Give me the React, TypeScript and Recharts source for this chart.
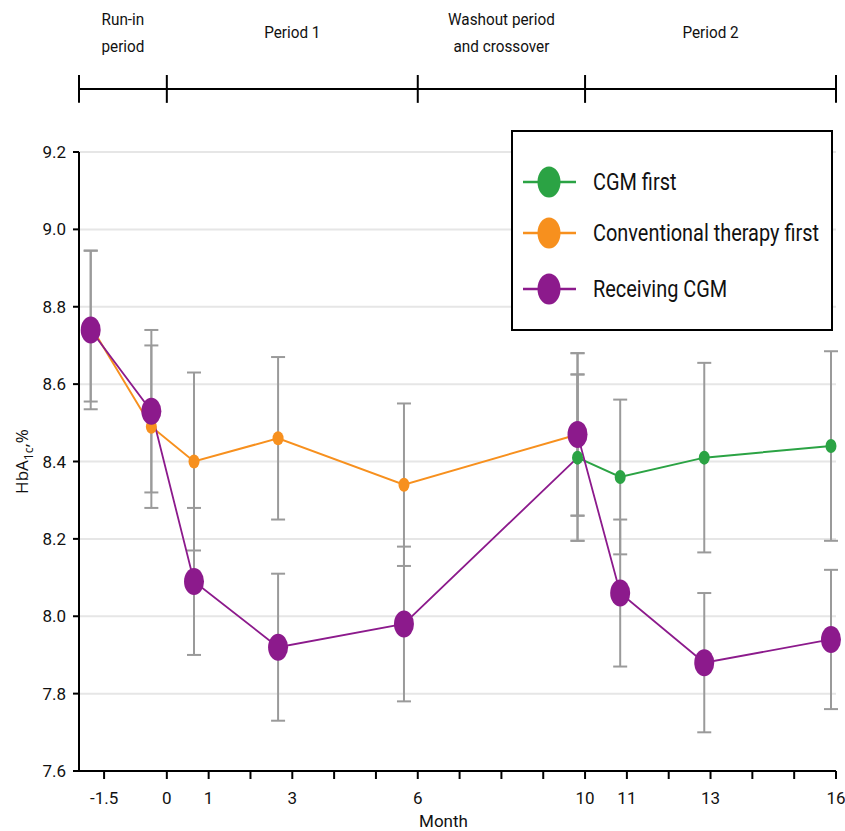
import React from "react";
import {
  LineChart,
  Line,
  XAxis,
  YAxis,
  CartesianGrid,
  ErrorBar,
  Legend,
  Label,
  ReferenceLine,
  ReferenceArea,
} from "recharts";

const FONT = "Roboto, 'Liberation Sans', sans-serif";
const GREEN = "#2ba344";
const ORANGE = "#f7901e";
const PURPLE = "#8c1a8c";
const GREY = "#9a9a9a";

// mean visit times in months (from randomisation)
const visitMonths = [-1.82, -0.37, 0.65, 2.66, 5.67, 9.82, 10.84, 12.85, 15.88];

// HbA1c (%) means with their SE
const conventionalFirst = [8.75, 8.49, 8.4, 8.46, 8.34, 8.47];
const conventionalFirstSe = [0.195, 0.21, 0.23, 0.21, 0.21, 0.21];

const cgmFirst = [8.41, 8.36, 8.41, 8.44];
const cgmFirstSe = [0.215, 0.2, 0.245, 0.245];

const receivingCgm = [8.74, 8.53, 8.09, 7.92, 7.98, 8.47, 8.06, 7.88, 7.94];
const receivingCgmSe = [0.205, 0.21, 0.19, 0.19, 0.2, 0.21, 0.19, 0.18, 0.18];

const xTicks = [-1.5, 0, 1, 2, 3, 4, 5, 6, 7, 8, 9, 10, 11, 12, 13, 14, 15, 16];
const xLabelled = [-1.5, 0, 1, 3, 6, 10, 11, 13, 16];
const yTicks = [7.6, 7.8, 8.0, 8.2, 8.4, 8.6, 8.8, 9.0, 9.2];

const periodEdges = [-2.1, 0, 6, 10, 16];
const periodLabels = [["Run-in", "period"], ["Period 1"], ["Washout period", "and crossover"], ["Period 2"]];

const legendItems = [
  { name: "CGM first", color: GREEN },
  { name: "Conventional therapy first", color: ORANGE },
  { name: "Receiving CGM", color: PURPLE },
];

type Pt = { month: number; value: number; se: number };
const toPoints = (vals: number[], errs: number[], start: number): Pt[] =>
  vals.map((v, i) => ({ month: visitMonths[start + i], value: v, se: errs[i] }));

const conventionalData = toPoints(conventionalFirst, conventionalFirstSe, 0);
const cgmFirstData = toPoints(cgmFirst, cgmFirstSe, 5);
// period 1 CGM arm runs on to the CGM-first group at the end of washout
const receivingP1 = [...toPoints(receivingCgm.slice(0, 5), receivingCgmSe.slice(0, 5), 0), cgmFirstData[0]];
const receivingP2 = toPoints(receivingCgm.slice(5), receivingCgmSe.slice(5), 5);

const ellipseDot = (color: string, rx: number, ry: number, hide: number[] = []) => (p: any) => {
  if (hide.includes(p.index) || p.cx == null) return <g key={`d-${p.index}`} />;
  return <ellipse key={`d-${p.index}`} cx={p.cx} cy={p.cy} rx={rx} ry={ry} fill={color} />;
};

const PeriodLabel = ({ viewBox, lines }: any) => {
  const cx = viewBox.x + viewBox.width / 2;
  const cy = viewBox.y + viewBox.height / 2;
  return (
    <g>
      {lines.map((t: string, i: number) => (
        <text
          key={t}
          transform={`translate(${cx} ${cy + (i - (lines.length - 1) / 2) * 27}) scale(0.9 1)`}
          dy="0.35em"
          textAnchor="middle"
          fontSize={17}
          fill="#111"
        >
          {t}
        </text>
      ))}
    </g>
  );
};

const YTitle = ({ viewBox }: any) => {
  const cx = 22;
  const cy = viewBox.y + viewBox.height / 2;
  return (
    <text
      x={cx}
      y={cy}
      transform={`rotate(-90 ${cx} ${cy})`}
      textAnchor="middle"
      dy="0.35em"
      fontSize={17}
      fontFamily="'Open Sans', sans-serif"
      fill="#111"
    >
      HbA
      <tspan fontSize={12} dy={5}>
        1c
      </tspan>
      <tspan dy={-5}>,%</tspan>
    </text>
  );
};

const XTitle = ({ viewBox }: any) => (
  <text x={viewBox.x + viewBox.width / 2 - 14} y={viewBox.y + 50} dy="0.35em" textAnchor="middle" fontSize={17} fill="#111">
    Month
  </text>
);

const LegendBox = () => (
  <div style={{ width: 322, height: 201, border: "2px solid #000", background: "#fff", boxSizing: "border-box" }}>
    <svg width={318} height={197} style={{ display: "block", fontFamily: FONT }}>
      {legendItems.map((item, i) => {
        const y = [50, 101, 157][i];
        return (
          <g key={item.name}>
            <line x1={10} x2={63} y1={y} y2={y} stroke={item.color} strokeWidth={2.5} />
            <ellipse cx={36} cy={y} rx={11.5} ry={15.5} fill={item.color} />
            <text transform={`translate(80 ${y}) scale(0.83 1)`} dy="0.35em" fontSize={24} fill="#111">
              {item.name}
            </text>
          </g>
        );
      })}
    </svg>
  </div>
);

export default function App() {
  return (
    <div style={{ position: "absolute", left: 0, top: 0 }}>
      <LineChart
        width={845}
        height={831}
        margin={{ top: 152, right: 9, bottom: 0, left: 0 }}
        style={{ fontFamily: FONT }}
      >
        <CartesianGrid vertical={false} stroke="#e6e6e6" strokeWidth={2} />
        <XAxis
          type="number"
          dataKey="month"
          domain={[-2.1, 16]}
          ticks={xTicks}
          interval={0}
          height={60}
          tickFormatter={(v: number) => (xLabelled.includes(v) ? String(v) : "")}
          tick={{ fontSize: 17, fill: "#111" }}
          tickSize={8}
          tickMargin={13}
          axisLine={{ stroke: "#000", strokeWidth: 2 }}
          tickLine={{ stroke: "#000", strokeWidth: 2 }}
        >
          <Label content={XTitle} />
        </XAxis>
        <YAxis
          type="number"
          domain={[7.6, 9.2]}
          ticks={yTicks}
          interval={0}
          width={79}
          tickFormatter={(v: number) => v.toFixed(1)}
          tick={{ fontSize: 17, fill: "#111" }}
          tickSize={6}
          tickMargin={7}
          axisLine={{ stroke: "#000", strokeWidth: 2 }}
          tickLine={{ stroke: "#000", strokeWidth: 2 }}
        >
          <Label content={YTitle} />
        </YAxis>

        {/* study period bar above the plot */}
        <ReferenceLine
          segment={[{ x: -2.1, y: 9.363 }, { x: 16, y: 9.363 }]}
          stroke="#000"
          strokeWidth={2}
          ifOverflow="visible"
        />
        {periodEdges.map((e) => (
          <ReferenceLine
            key={`edge-${e}`}
            segment={[{ x: e, y: 9.327 }, { x: e, y: 9.399 }]}
            stroke="#000"
            strokeWidth={2}
            ifOverflow="visible"
          />
        ))}
        {periodLabels.map((lines, i) => (
          <ReferenceArea
            key={lines[0]}
            x1={periodEdges[i]}
            x2={periodEdges[i + 1]}
            y1={9.45}
            y2={9.57}
            fill="none"
            stroke="none"
            ifOverflow="visible"
            label={<PeriodLabel lines={lines} />}
          />
        ))}

        <Line
          data={conventionalData}
          dataKey="value"
          stroke={ORANGE}
          strokeWidth={2}
          dot={ellipseDot(ORANGE, 5.5, 7)}
          activeDot={false}
          isAnimationActive={false}
        >
          <ErrorBar dataKey="se" direction="y" width={7} stroke={GREY} strokeWidth={2} />
        </Line>
        <Line
          data={receivingP1}
          dataKey="value"
          stroke={PURPLE}
          strokeWidth={1.8}
          dot={ellipseDot(PURPLE, 10, 13.5, [5])}
          activeDot={false}
          isAnimationActive={false}
        >
          <ErrorBar dataKey="se" direction="y" width={7} stroke={GREY} strokeWidth={2} />
        </Line>
        <Line
          data={cgmFirstData}
          dataKey="value"
          stroke={GREEN}
          strokeWidth={2}
          dot={ellipseDot(GREEN, 5.5, 7)}
          activeDot={false}
          isAnimationActive={false}
        >
          <ErrorBar dataKey="se" direction="y" width={7} stroke={GREY} strokeWidth={2} />
        </Line>
        <Line
          data={receivingP2}
          dataKey="value"
          stroke={PURPLE}
          strokeWidth={1.8}
          dot={ellipseDot(PURPLE, 10, 13.5)}
          activeDot={false}
          isAnimationActive={false}
        >
          <ErrorBar dataKey="se" direction="y" width={7} stroke={GREY} strokeWidth={2} />
        </Line>

        <Legend
          layout="vertical"
          align="center"
          verticalAlign="middle"
          content={LegendBox}
          wrapperStyle={{ position: "absolute", left: 511, top: 130, width: 322, height: 201 }}
        />
      </LineChart>
    </div>
  );
}
